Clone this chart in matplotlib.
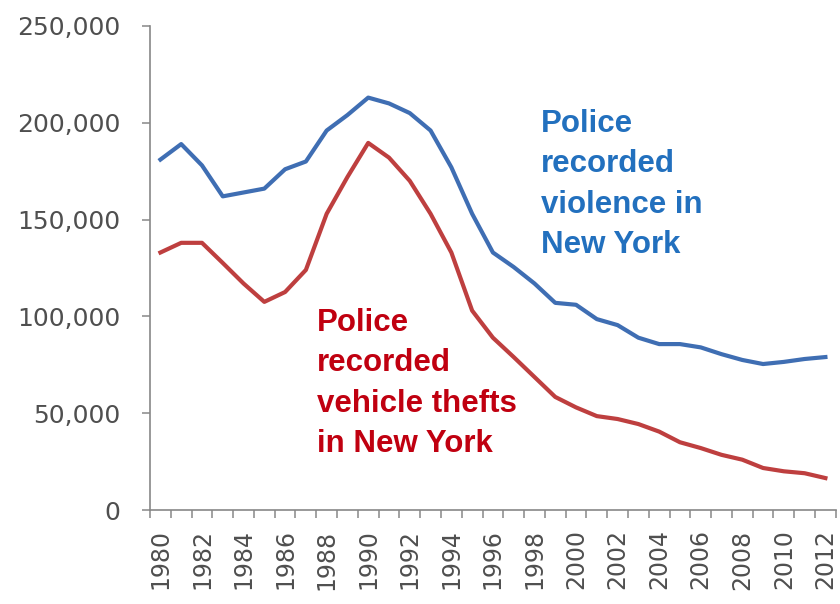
import matplotlib
matplotlib.use("Agg")
import matplotlib.pyplot as plt
from matplotlib.ticker import FuncFormatter, MultipleLocator
import numpy as np

years = list(range(1980, 2013))
violence = [181000, 189000, 178000, 162000, 164000, 166000, 176000, 180000,
            196000, 204000, 213000, 210000, 205000, 196000, 177000, 153000,
            133000, 125500, 117000, 107000, 106000, 98600, 95500, 89000,
            85700, 85700, 84000, 80500, 77500, 75400, 76500, 78000, 79000]
vehicle_thefts = [133000, 138000, 138000, 127600, 117000, 107500, 112600, 124000,
                  153000, 172000, 189600, 182000, 170000, 153000, 133000, 103000,
                  89000, 79000, 68700, 58400, 53000, 48500, 47000, 44400,
                  40500, 35000, 32000, 28500, 26000, 21700, 20000, 19000, 16500]
year_labels = [str(y) for y in years[::2]]

blue_line = "#3F6EB3"
red_line = "#BE3F3F"
blue_text = "#2270BE"
red_text = "#C00010"
axis_grey = "#878787"
label_grey = "#4F4F4F"

plt.rcParams["font.family"] = ["Liberation Sans", "DejaVu Sans"]

fig = plt.figure(figsize=(8.4, 6.04), dpi=100)
ax = fig.add_axes([0.1786, 0.1556, 0.8164, 0.8014])

ax.plot(years, violence, color=blue_line, lw=3.0, solid_joinstyle="round")
ax.plot(years, vehicle_thefts, color=red_line, lw=3.0, solid_joinstyle="round")

ax.set_xlim(1979.5, 2012.5)
ax.set_ylim(0, 250000)

ax.yaxis.set_major_locator(MultipleLocator(50000))
ax.yaxis.set_major_formatter(FuncFormatter(lambda v, p: f"{int(v):,}"))

ax.set_xticks(years[::2])
ax.set_xticklabels(year_labels, rotation=90)
ax.set_xticks(np.arange(1979.5, 2013, 1.0), minor=True)
ax.tick_params(axis="x", which="major", length=0, pad=14, labelsize=17,
               labelcolor=label_grey)
ax.tick_params(axis="x", which="minor", length=6, width=1.1, color=axis_grey,
               direction="out")
ax.tick_params(axis="y", which="major", length=6, width=1.1, color=axis_grey,
               pad=15.5, labelsize=18, labelcolor=label_grey)
for lab in ax.get_xticklabels() + ax.get_yticklabels():
    lab.set_family(["DejaVu Sans"])

for side in ("top", "right"):
    ax.spines[side].set_visible(False)
for side in ("left", "bottom"):
    ax.spines[side].set_color(axis_grey)
    ax.spines[side].set_linewidth(1.2)

# multi-line labels are anchored at the baseline of their last line
ax.text(1998.3, 132700, "Police\nrecorded\nviolence in\nNew York",
        color=blue_text, fontsize=22.5, fontweight="bold", va="baseline",
        ha="left", linespacing=1.45)
ax.text(1987.55, 30000, "Police\nrecorded\nvehicle thefts\nin New York",
        color=red_text, fontsize=22.5, fontweight="bold", va="baseline",
        ha="left", linespacing=1.45)

fig.savefig("out.png", dpi=100, facecolor="white")
